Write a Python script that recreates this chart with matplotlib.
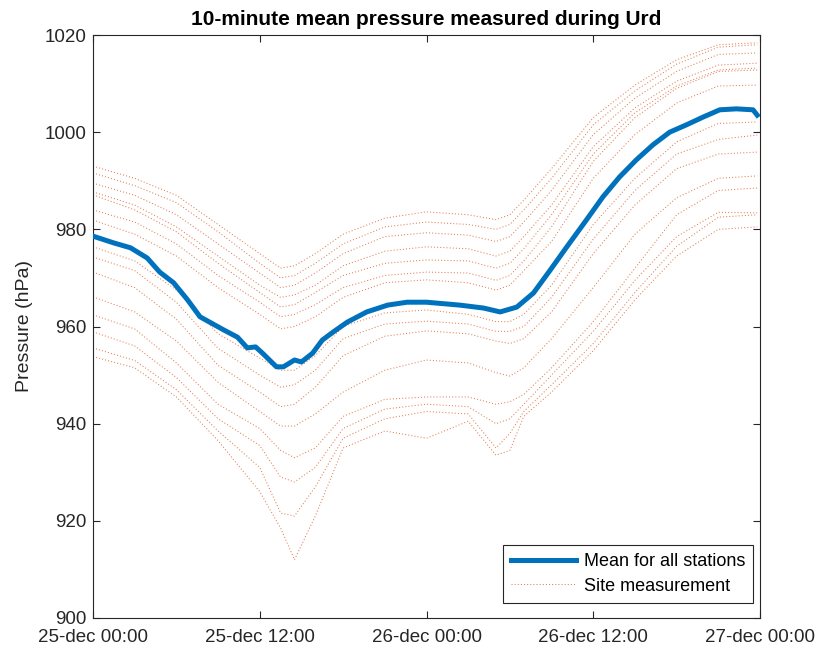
import numpy as np
import pandas as pd
import matplotlib
matplotlib.use("Agg")
import matplotlib.pyplot as plt
import matplotlib.dates as mdates
from matplotlib.ticker import FuncFormatter

plt.rcParams['font.family'] = ['Liberation Sans', 'DejaVu Sans']

start = pd.Timestamp('2016-12-25 00:00')

# station readings (hPa), hours after 25-dec 00:00
site_hours = [0, 3, 6, 9, 12, 13.5, 14.5, 16, 18, 21, 24, 27, 29, 30, 31, 33, 36, 39, 42, 45, 47.8]
site_p = [
    [993.0, 990.5, 987.0, 981.0, 975.0, 972.0, 972.5, 975.0, 979.0, 982.3, 983.6, 983.0, 982.0, 983.0, 986.0, 992.5, 1003.0, 1009.7, 1014.9, 1018.0, 1018.4],
    [991.6, 989.0, 985.5, 979.5, 973.0, 970.0, 970.5, 973.0, 977.0, 980.5, 981.5, 981.0, 980.0, 981.0, 984.0, 990.5, 1001.5, 1008.5, 1014.0, 1017.5, 1018.0],
    [989.5, 987.0, 983.0, 977.0, 971.0, 968.0, 968.5, 971.0, 975.0, 978.5, 979.3, 978.8, 977.5, 978.5, 981.5, 988.0, 999.5, 1007.0, 1012.5, 1016.0, 1016.3],
    [987.7, 985.0, 980.5, 974.5, 968.5, 966.0, 966.5, 968.5, 972.5, 975.5, 976.4, 976.0, 974.5, 975.5, 978.5, 985.0, 997.0, 1005.0, 1010.5, 1013.8, 1014.2],
    [987.1, 984.0, 979.5, 973.0, 967.0, 964.0, 964.5, 967.0, 970.5, 973.0, 973.7, 973.5, 972.0, 973.0, 976.0, 983.0, 995.5, 1004.0, 1009.5, 1012.8, 1013.2],
    [984.0, 981.5, 977.0, 970.5, 965.0, 962.0, 962.5, 964.5, 968.0, 970.5, 971.2, 971.0, 969.5, 970.5, 973.5, 980.5, 994.0, 1003.0, 1009.0, 1012.5, 1012.8],
    [981.9, 979.0, 974.5, 968.0, 962.5, 959.5, 960.0, 962.0, 966.0, 969.0, 969.6, 969.0, 967.5, 968.5, 971.5, 977.5, 990.5, 999.5, 1006.0, 1009.5, 1009.7],
    [976.4, 973.5, 967.5, 958.5, 953.5, 951.0, 951.0, 954.0, 960.0, 962.8, 963.4, 962.5, 961.0, 961.0, 962.5, 968.5, 981.0, 990.5, 998.0, 1001.8, 1002.1],
    [974.3, 971.5, 965.0, 955.5, 950.0, 947.5, 948.0, 951.0, 957.5, 960.5, 961.1, 960.5, 959.0, 959.0, 960.0, 966.0, 978.0, 988.0, 995.5, 998.5, 999.4],
    [971.2, 968.0, 961.5, 952.0, 946.5, 943.5, 944.0, 947.5, 954.0, 958.0, 959.1, 958.5, 957.0, 956.5, 957.5, 963.0, 975.0, 985.0, 992.5, 995.5, 995.9],
    [966.1, 963.0, 957.0, 948.5, 942.5, 939.5, 939.5, 942.0, 946.5, 951.0, 953.1, 952.5, 950.5, 949.8, 951.5, 957.5, 968.0, 979.0, 986.5, 990.5, 991.0],
    [962.4, 959.5, 952.5, 944.0, 939.0, 934.5, 933.0, 935.0, 941.5, 945.0, 945.5, 945.5, 944.0, 944.5, 946.0, 951.5, 961.0, 972.0, 983.0, 988.0, 988.5],
    [958.9, 956.0, 949.5, 941.0, 935.5, 929.0, 928.0, 931.0, 939.0, 943.0, 944.0, 943.5, 940.0, 941.0, 944.0, 950.0, 959.0, 969.5, 978.5, 983.5, 983.4],
    [955.6, 953.0, 947.0, 938.5, 931.0, 921.6, 921.0, 927.0, 937.0, 941.0, 942.5, 942.0, 935.0, 938.0, 942.5, 948.0, 956.5, 967.0, 976.5, 982.5, 983.0],
    [953.8, 951.5, 945.5, 936.5, 926.0, 918.5, 912.0, 921.0, 935.0, 938.5, 937.0, 940.5, 933.5, 934.5, 941.5, 946.5, 955.0, 965.5, 974.5, 980.0, 980.5],
]

# mean over all stations
mean_hours = [0, 1.5, 2.7, 3.9, 4.8, 5.8, 6.8, 7.7, 9.4, 10.4, 11.1, 11.7, 12.2, 13.2, 13.7,
              14.5, 15.0, 15.8, 16.5, 17.3, 18.3, 19.7, 21.2, 22.6, 24.0, 26.4, 28.1, 29.3,
              30.5, 31.7, 32.9, 34.1, 35.5, 36.7, 37.9, 39.1, 40.3, 41.5, 42.7, 43.9, 45.1,
              46.3, 47.5, 47.8]
mean_p = [978.6, 977.2, 976.2, 974.1, 971.2, 969.0, 965.5, 962.0, 959.3, 957.8, 955.6, 955.8,
          954.5, 951.7, 951.7, 953.1, 952.7, 954.5, 957.2, 958.9, 960.9, 963.0, 964.4, 965.0,
          965.0, 964.4, 963.8, 963.0, 964.0, 966.9, 971.6, 976.4, 981.9, 986.7, 990.8, 994.3,
          997.4, 1000.0, 1001.5, 1003.1, 1004.6, 1004.8, 1004.6, 1003.5]

blue = '#0072BD'
orange = '#D95319'
grey = '#262626'

fig = plt.figure(figsize=(8.18, 6.53), dpi=100)
ax = fig.add_axes([0.1137, 0.0536, 0.8154, 0.8928])

site_t = start + pd.to_timedelta(site_hours, unit='h')
for i, p in enumerate(site_p):
    ax.plot(site_t, p, color=orange, lw=0.75, linestyle=(0, (1, 2)), alpha=0.75,
            label='Site measurement' if i == 0 else None)

mean_t = start + pd.to_timedelta(mean_hours, unit='h')
ax.plot(mean_t, mean_p, color=blue, lw=3.6, label='Mean for all stations', zorder=5)

ax.set_xlim(start, start + pd.Timedelta(hours=48))
ax.set_ylim(900, 1020)
ax.set_yticks(np.arange(900, 1021, 20))
ax.xaxis.set_major_locator(mdates.HourLocator(byhour=[0, 12]))
ax.xaxis.set_major_formatter(FuncFormatter(
    lambda x, pos: mdates.num2date(x).strftime('%d-%b %H:%M').lower()))

for s in ax.spines.values():
    s.set_color(grey)
    s.set_linewidth(0.8)
ax.tick_params(direction='in', length=5, width=0.8, color=grey, labelcolor=grey,
               labelsize=13.5, top=True, right=True)
ax.tick_params(axis='x', pad=8)
ax.tick_params(axis='y', pad=5)

ax.set_ylabel('Pressure (hPa)', fontsize=14, color=grey, labelpad=8)
ax.set_title('10-minute mean pressure measured during Urd', fontsize=15,
             fontweight='bold', pad=7)

handles, labels = ax.get_legend_handles_labels()
order = [labels.index('Mean for all stations'), labels.index('Site measurement')]
leg = ax.legend([handles[k] for k in order], [labels[k] for k in order],
                loc='lower right', bbox_to_anchor=(0.9895, 0.026), borderaxespad=0,
                fontsize=13, fancybox=False, framealpha=1, edgecolor=grey,
                handlelength=3.6, borderpad=0.45, labelspacing=0.4, handletextpad=0.4)
leg.get_frame().set_linewidth(0.8)

fig.savefig('out.png', dpi=100)
